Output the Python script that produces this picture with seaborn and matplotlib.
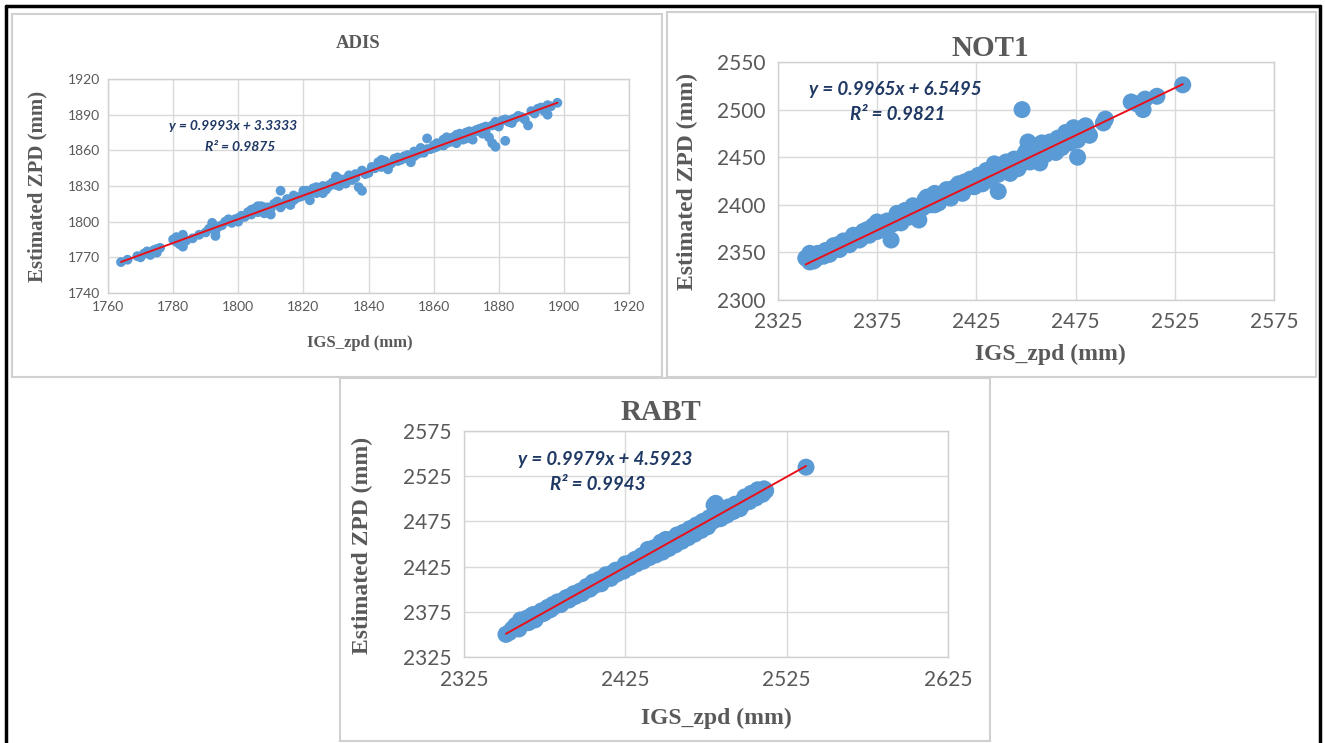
import matplotlib
matplotlib.use("Agg")
import matplotlib.pyplot as plt
import seaborn as sns
from matplotlib.patches import Rectangle
from matplotlib.lines import Line2D

# ---- data ----
adis_x = [1764, 1770, 1771, 1772, 1773, 1774, 1775, 1775, 1780, 1781, 1782, 1783, 1783, 1786,
          1790, 1792, 1793, 1793, 1795, 1796, 1798, 1800, 1800, 1802, 1803, 1805, 1806, 1807,
          1808, 1810, 1810, 1812, 1813, 1814, 1815, 1816, 1818, 1820, 1821, 1822, 1823, 1825,
          1826, 1827, 1829, 1830, 1831, 1832, 1833, 1835, 1836, 1837, 1838, 1838, 1840, 1842,
          1843, 1845, 1846, 1848, 1850, 1852, 1853, 1855, 1856, 1857, 1858, 1859, 1860, 1862,
          1863, 1865, 1866, 1867, 1868, 1870, 1871, 1872, 1874, 1875, 1876, 1877, 1878, 1879,
          1880, 1881, 1882, 1883, 1885, 1887, 1889, 1890, 1892, 1894, 1895, 1896, 1898,
          1804, 1809, 1817, 1824, 1828, 1834, 1844, 1849, 1854, 1861, 1864, 1869, 1873, 1884,
          1766, 1769, 1776, 1781, 1784, 1788, 1791, 1794, 1797, 1799, 1801, 1804, 1806, 1808,
          1809, 1811, 1813, 1815, 1817, 1819, 1820, 1822, 1824, 1826, 1828, 1830, 1831, 1833,
          1834, 1836, 1839, 1841, 1844, 1845, 1847, 1849, 1851, 1852, 1854, 1856, 1858, 1860,
          1861, 1863, 1864, 1866, 1867, 1869, 1870, 1871, 1873, 1875, 1876, 1878, 1879, 1880,
          1882, 1884, 1886, 1888, 1891, 1893, 1895]
adis_y = [1766, 1770, 1773, 1775, 1772, 1776, 1777, 1774, 1785, 1783, 1781, 1789, 1779, 1786,
          1791, 1799, 1792, 1788, 1797, 1800, 1799, 1803, 1800, 1804, 1808, 1811, 1808, 1813,
          1807, 1811, 1806, 1817, 1826, 1815, 1819, 1814, 1820, 1822, 1826, 1818, 1828, 1825,
          1830, 1827, 1833, 1838, 1830, 1834, 1836, 1835, 1840, 1829, 1826, 1843, 1841, 1845,
          1850, 1847, 1844, 1853, 1852, 1856, 1850, 1857, 1862, 1858, 1870, 1861, 1864, 1865,
          1869, 1867, 1871, 1866, 1874, 1870, 1876, 1869, 1878, 1874, 1880, 1871, 1866, 1863,
          1882, 1885, 1868, 1884, 1887, 1888, 1881, 1893, 1895, 1893, 1890, 1897, 1900,
          1806, 1812, 1818, 1824, 1831, 1837, 1846, 1851, 1855, 1863, 1866, 1872, 1876, 1886,
          1768, 1771, 1778, 1787, 1784, 1789, 1794, 1796, 1802, 1802, 1805, 1810, 1813, 1812,
          1809, 1815, 1812, 1818, 1822, 1821, 1826, 1824, 1829, 1824, 1830, 1831, 1836, 1832,
          1839, 1837, 1840, 1846, 1852, 1851, 1849, 1854, 1855, 1853, 1859, 1858, 1861, 1862,
          1866, 1864, 1871, 1868, 1873, 1869, 1875, 1872, 1877, 1879, 1876, 1881, 1884, 1880,
          1886, 1883, 1889, 1886, 1891, 1896, 1898]

not1_x = [2339, 2341, 2341, 2344, 2346, 2348, 2350, 2352, 2354, 2355, 2357, 2359, 2360, 2362,
          2364, 2365, 2367, 2369, 2370, 2372, 2374, 2376, 2377, 2379, 2380, 2382, 2384, 2386,
          2388, 2390, 2392, 2394, 2396, 2397, 2399, 2401, 2403, 2405, 2407, 2409, 2411, 2413,
          2415, 2417, 2419, 2421, 2423, 2425, 2427, 2429, 2431, 2433, 2435, 2436, 2437, 2439,
          2441, 2443, 2445, 2447, 2448, 2449, 2451, 2453, 2455, 2457, 2459, 2461, 2463, 2465,
          2467, 2469, 2471, 2473, 2475, 2476, 2477, 2479, 2481, 2490, 2489, 2503, 2506, 2509,
          2510, 2516, 2529, 2375, 2381, 2393, 2404, 2418, 2428, 2444, 2452, 2458, 2470,
          2343, 2345, 2349, 2351, 2353, 2356, 2358, 2361, 2363, 2366, 2368, 2371, 2373, 2375,
          2378, 2383, 2385, 2387, 2389, 2391, 2393, 2395, 2398, 2400, 2402, 2404, 2406, 2408,
          2410, 2412, 2414, 2416, 2418, 2420, 2422, 2424, 2426, 2428, 2430, 2432, 2434, 2436,
          2438, 2440, 2442, 2444, 2446, 2450, 2452, 2454, 2456, 2458, 2460, 2462, 2464, 2466,
          2468, 2470, 2472, 2474, 2478, 2480, 2482, 2476]
not1_y = [2344, 2349, 2340, 2343, 2347, 2346, 2350, 2352, 2355, 2358, 2356, 2360, 2362, 2361,
          2364, 2366, 2365, 2370, 2374, 2371, 2376, 2375, 2379, 2377, 2383, 2363, 2385, 2388,
          2386, 2392, 2389, 2397, 2384, 2399, 2405, 2403, 2410, 2408, 2406, 2413, 2411, 2417,
          2419, 2416, 2424, 2420, 2426, 2424, 2428, 2430, 2432, 2435, 2440, 2414, 2436, 2443,
          2438, 2440, 2446, 2442, 2500, 2452, 2466, 2450, 2457, 2444, 2460, 2458, 2463, 2455,
          2462, 2468, 2470, 2475, 2478, 2450, 2472, 2481, 2476, 2490, 2486, 2508, 2506, 2500,
          2511, 2514, 2526, 2372, 2378, 2388, 2400, 2415, 2425, 2437, 2448, 2453, 2466,
          2341, 2349, 2352, 2348, 2357, 2353, 2362, 2358, 2368, 2363, 2372, 2368, 2378, 2382,
          2374, 2380, 2391, 2381, 2394, 2387, 2399, 2392, 2397, 2408, 2400, 2412, 2402, 2409,
          2416, 2407, 2414, 2422, 2412, 2418, 2427, 2419, 2431, 2422, 2436, 2426, 2443, 2432,
          2440, 2445, 2433, 2448, 2438, 2456, 2445, 2462, 2450, 2465, 2453, 2466, 2458, 2470,
          2460, 2476, 2465, 2481, 2476, 2483, 2473, 2468]

rabt_x = [2351, 2355, 2358, 2360, 2362, 2364, 2366, 2368, 2370, 2372, 2374, 2376, 2378, 2380,
          2382, 2384, 2386, 2388, 2390, 2392, 2394, 2396, 2398, 2400, 2402, 2404, 2406, 2408,
          2410, 2412, 2414, 2416, 2418, 2420, 2422, 2424, 2426, 2428, 2430, 2432, 2434, 2436,
          2438, 2440, 2442, 2444, 2446, 2448, 2450, 2452, 2454, 2456, 2458, 2460, 2462, 2464,
          2466, 2468, 2470, 2472, 2474, 2476, 2478, 2480, 2481, 2482, 2484, 2486, 2488, 2490,
          2492, 2494, 2496, 2498, 2500, 2502, 2504, 2506, 2508, 2510, 2512, 2537,
          2353, 2357, 2359, 2361, 2363, 2365, 2367, 2369, 2371, 2373, 2375, 2377, 2379, 2381,
          2383, 2385, 2387, 2389, 2391, 2393, 2395, 2397, 2399, 2401, 2403, 2405, 2407, 2409,
          2411, 2413, 2415, 2417, 2419, 2421, 2423, 2425, 2427, 2429, 2431, 2433, 2435, 2437,
          2439, 2441, 2443, 2445, 2447, 2449, 2451, 2453, 2455, 2457, 2459, 2461, 2463, 2465,
          2467, 2469, 2471, 2473, 2475, 2477, 2479, 2480, 2482, 2483, 2485, 2487, 2489, 2491,
          2493, 2495, 2497, 2499, 2501, 2503, 2505, 2507, 2509, 2511]
rabt_y = [2350, 2356, 2358, 2366, 2362, 2368, 2365, 2372, 2369, 2374, 2373, 2378, 2377, 2383,
          2382, 2385, 2386, 2390, 2388, 2393, 2392, 2396, 2395, 2399, 2401, 2402, 2405, 2407,
          2406, 2411, 2413, 2412, 2418, 2417, 2421, 2420, 2425, 2424, 2430, 2428, 2432, 2431,
          2437, 2435, 2445, 2438, 2443, 2441, 2455, 2445, 2450, 2449, 2455, 2453, 2458, 2457,
          2462, 2461, 2466, 2465, 2470, 2469, 2474, 2476, 2495, 2480, 2478, 2483, 2482, 2487,
          2486, 2491, 2489, 2494, 2499, 2497, 2502, 2501, 2506, 2505, 2509, 2535,
          2352, 2360, 2356, 2363, 2366, 2363, 2371, 2366, 2372, 2376, 2374, 2380, 2378, 2381,
          2386, 2383, 2388, 2391, 2390, 2395, 2394, 2398, 2397, 2403, 2400, 2408, 2405, 2411,
          2409, 2416, 2414, 2418, 2421, 2419, 2423, 2428, 2426, 2430, 2433, 2434, 2437, 2436,
          2444, 2440, 2446, 2443, 2452, 2447, 2452, 2455, 2451, 2460, 2457, 2463, 2461, 2467,
          2464, 2471, 2469, 2475, 2472, 2479, 2478, 2493, 2492, 2484, 2480, 2485, 2491, 2488,
          2494, 2490, 2496, 2502, 2500, 2506, 2503, 2510, 2507, 2511]

# trendline equations printed on each chart
fits = {"ADIS": (0.9993, 3.3333, "0.9875"),
        "NOT1": (0.9965, 6.5495, "0.9821"),
        "RABT": (0.9979, 4.5923, "0.9943")}

W, H = 1325, 743
GREY = "#595959"
NAVY = "#1f3864"
BLUE = "#5b9bd5"

sns.set_theme(style="white")
plt.rcParams["font.family"] = ["Lato", "DejaVu Sans"]

fig = plt.figure(figsize=(W / 100, H / 100), dpi=100)


def box(l, t, r, b):
    return [l / W, 1 - b / H, (r - l) / W, (b - t) / H]


def txt(x, y, s, **kw):
    fig.text(x / W, 1 - y / H, s, ha="center", va="center", **kw)


panels = [
    # name, xs, ys, axes box, x ticks, y ticks, marker size, text scale
    ("ADIS", adis_x, adis_y, (108, 79, 629, 293), range(1760, 1921, 20), range(1740, 1921, 30), 50, 1.0),
    ("NOT1", not1_x, not1_y, (778, 62, 1274, 300), range(2325, 2576, 50), range(2300, 2551, 50), 150, 1.5),
    ("RABT", rabt_x, rabt_y, (464, 431, 948, 657), range(2325, 2626, 100), range(2325, 2576, 50), 150, 1.5),
]

for name, xs, ys, (l, t, r, b), xt, yt, ms, k in panels:
    ax = fig.add_axes(box(l, t, r, b))
    xt, yt = list(xt), list(yt)
    sns.scatterplot(x=xs, y=ys, ax=ax, color=BLUE, s=ms, edgecolor="none", alpha=1, zorder=3)
    a, c, r2 = fits[name]
    x0, x1 = min(xs), max(xs)
    sns.lineplot(x=[x0, x1], y=[a * x0 + c, a * x1 + c], ax=ax, color="#e8101a", lw=1.4, zorder=4)
    ax.set_xlim(xt[0], xt[-1])
    ax.set_ylim(yt[0], yt[-1])
    ax.set_xticks(xt)
    ax.set_yticks(yt)
    ax.grid(True, color="#d9d9d9", lw=1)
    for sp in ax.spines.values():
        sp.set_color("#d0d0d0")
        sp.set_linewidth(1)
    ax.tick_params(length=0, labelsize=10 * k, colors=GREY, pad=6 * k)
    ax.set_xlabel("")
    ax.set_ylabel("")

# panel frames
for l, t, r, b in [(12, 14, 662, 377), (667, 12, 1316, 377), (340, 378, 990, 741)]:
    fig.add_artist(Rectangle((l / W, 1 - b / H), (r - l) / W, (b - t) / H,
                             transform=fig.transFigure, fill=False, ec="#d0d0d0", lw=1.5))

# outer black frame
for xs_, ys_ in [([6, 6], [6, H]), ([6, 1320], [6, 6]), ([1320, 1320], [6, H])]:
    fig.add_artist(Line2D([v / W for v in xs_], [1 - v / H for v in ys_],
                          transform=fig.transFigure, color="black", lw=2.5))

serif = ["Liberation Serif", "DejaVu Serif"]
# ADIS texts
txt(358, 44, "ADIS", family=serif, weight="bold", size=13.5, color=GREY)
txt(360, 343, "IGS_zpd (mm)", family=serif, weight="bold", size=12, color=GREY)
txt(37, 186, "Estimated ZPD (mm)", family=serif, weight="bold", size=15, color=GREY, rotation=90)
txt(233, 126, "y = 0.9993x + 3.3333", weight="bold", style="italic", size=10, color=NAVY)
txt(240, 147, "R² = 0.9875", weight="bold", style="italic", size=10, color=NAVY)
# NOT1 texts
txt(990, 48, "NOT1", family=serif, weight="bold", size=21, color=GREY)
txt(1050, 354, "IGS_zpd (mm)", family=serif, weight="bold", size=17, color=GREY)
txt(687, 181, "Estimated ZPD (mm)", family=serif, weight="bold", size=17, color=GREY, rotation=90)
txt(895, 89, "y = 0.9965x + 6.5495", weight="bold", style="italic", size=13.5, color=NAVY)
txt(898, 115, "R² = 0.9821", weight="bold", style="italic", size=13.5, color=NAVY)
# RABT texts
txt(661, 412, "RABT", family=serif, weight="bold", size=21, color=GREY)
txt(716, 718, "IGS_zpd (mm)", family=serif, weight="bold", size=17, color=GREY)
txt(362, 545, "Estimated ZPD (mm)", family=serif, weight="bold", size=17, color=GREY, rotation=90)
txt(605, 459, "y = 0.9979x + 4.5923", weight="bold", style="italic", size=13.5, color=NAVY)
txt(598, 484, "R² = 0.9943", weight="bold", style="italic", size=13.5, color=NAVY)

fig.savefig("out.png", dpi=100, facecolor="white")
